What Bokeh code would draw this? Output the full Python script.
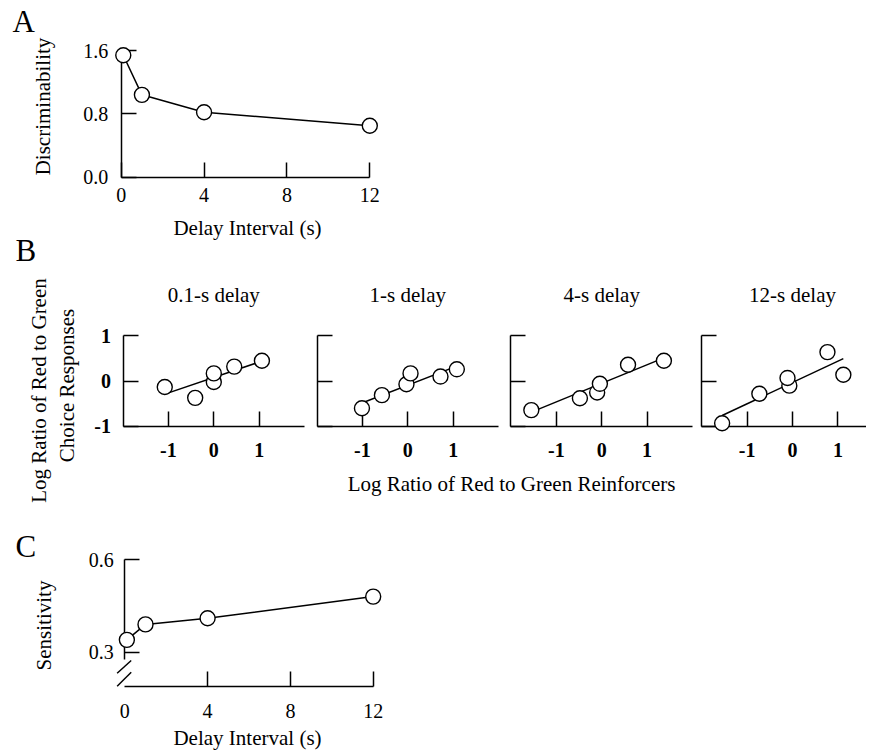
import math
from bokeh.plotting import figure
from bokeh.models import Range1d, LinearAxis, FixedTicker, Label, PrintfTickFormatter
from bokeh.embed import file_html
from bokeh.resources import INLINE

# ---------------- data ----------------
A_DELAY = [0.1, 1, 4, 12]
A_DISCRIMINABILITY = [1.54, 1.04, 0.82, 0.65]
A_XTICKS = [0, 4, 8, 12]
A_YTICKS = [0.0, 0.8, 1.6]

B_TITLES = ["0.1-s delay", "1-s delay", "4-s delay", "12-s delay"]
B1_X = [-1.08, -0.41, 0.0, 0.0, 0.45, 1.06]
B1_Y = [-0.13, -0.37, -0.02, 0.17, 0.32, 0.45]
B2_X = [-1.01, -0.57, -0.03, 0.06, 0.72, 1.08]
B2_Y = [-0.60, -0.31, -0.07, 0.17, 0.10, 0.26]
B3_X = [-1.55, -0.48, -0.10, -0.04, 0.58, 1.37]
B3_Y = [-0.64, -0.38, -0.25, -0.06, 0.36, 0.45]
B4_X = [-1.55, -0.73, -0.07, -0.11, 0.77, 1.12]
B4_Y = [-0.93, -0.28, -0.10, 0.07, 0.64, 0.14]
B_FIT_SLOPE = [0.34, 0.39, 0.41, 0.47]
B_FIT_INTERCEPT = [0.08, -0.09, -0.05, -0.03]
B_XTICKS = [-1, 0, 1]
B_YTICKS = [-1, 0, 1]
B_XLIM = [-2, 2]

C_DELAY = [0.1, 1, 4, 12]
C_SENSITIVITY = [0.34, 0.39, 0.41, 0.48]
C_XTICKS = [0, 4, 8, 12]
C_YTICKS = [0.3, 0.6]
C_FLOOR = 0.19        # where the broken y axis meets the x axis
C_BREAK_TOP = 0.275   # y axis line resumes above the break

# ---------------- layout (page pixels of the reference) ----------------
PX_LO, PX_HI = 0, 866      # canvas left / right
PY_TOP, PY_BOT = 0, 750    # canvas top / bottom
SERIF = "Liberation Serif"

def px_range(d0, p0, d1, p1, lo, hi):
    k = (d1 - d0) / (p1 - p0)
    return Range1d(start=d0 + (lo - p0) * k, end=d0 + (hi - p0) * k)

def xr(d0, p0, d1, p1):
    return px_range(d0, p0, d1, p1, PX_LO, PX_HI)

def yr(d0, p0, d1, p1):
    return px_range(d0, p0, d1, p1, PY_BOT, PY_TOP)

p = figure(width=PX_HI - PX_LO, height=PY_BOT - PY_TOP,
           x_range=Range1d(PX_LO, PX_HI), y_range=Range1d(PY_BOT, PY_TOP),
           x_axis_type=None, y_axis_type=None, toolbar_location=None,
           output_backend="svg", min_border=0, outline_line_color=None,
           background_fill_color="white", border_fill_color="white")

B_CENTER_PX = [213.3, 407.3, 601.2, 792.0]
B_XSCALE = 45.4
B_Y0_PX, B_YSCALE = 380.6, 45.3

extra_x = {"ax": xr(0, 120.7, 12, 369.3), "cx": xr(0, 124.3, 12, 372.7)}
extra_y = {"ay": yr(0, 176.7, 1.6, 50.0), "cy": yr(0.3, 651.7, 0.6, 559.0),
           "by": yr(0, B_Y0_PX, 1, B_Y0_PX - B_YSCALE)}
for i, c in enumerate(B_CENTER_PX):
    extra_x[f"b{i}x"] = xr(0, c, 1, c + B_XSCALE)
p.extra_x_ranges = extra_x
p.extra_y_ranges = extra_y


def style_axis(ax, standoff, labels=True, bold=False, tick_in=15, line=True):
    ax.axis_line_color = "black" if line else None
    ax.axis_line_width = 1.5
    ax.major_tick_line_color = "black" if tick_in > 0 else None
    ax.major_tick_line_width = 1.5
    ax.major_tick_in = tick_in
    ax.major_tick_out = 0
    ax.minor_tick_in = 0
    ax.minor_tick_out = 0
    ax.minor_tick_line_color = None
    ax.major_label_text_font = SERIF
    ax.major_label_text_font_size = "20px"
    ax.major_label_text_color = "black" if labels else None
    ax.major_label_text_font_style = "bold" if bold else "normal"
    ax.major_label_standoff = standoff
    ax.level = "underlay"


def add_axis(side, xname, yname, loc, bounds, ticks, fmt, standoff, **kw):
    ax = LinearAxis(x_range_name=xname, y_range_name=yname, fixed_location=loc,
                    bounds=bounds, ticker=FixedTicker(ticks=ticks),
                    formatter=PrintfTickFormatter(format=fmt))
    style_axis(ax, standoff, **kw)
    p.add_layout(ax, side)
    return ax


def text(x, y, s, size=21, align="center", angle=0, xname="default", bold=False):
    # x, y: intended baseline anchor in reference pixels; compensate for the
    # renderer's baseline offset (about 0.36 em)
    shift = 0.36 * size
    if angle == 0:
        y -= shift
    else:
        x -= shift
    p.add_layout(Label(x=x, y=y, text=s, text_font=SERIF, text_font_size=f"{size}px",
                       text_align=align, text_baseline="alphabetic", angle=angle,
                       text_color="black", x_range_name=xname,
                       text_font_style="bold" if bold else "normal"))


def circles(xs, ys, xname, yname):
    p.scatter(xs, ys, marker="circle", size=15, fill_color="white",
              line_color="black", line_width=1.4,
              x_range_name=xname, y_range_name=yname)

# ---------------- Panel A ----------------
add_axis("below", "ax", "ay", A_YTICKS[0], (A_XTICKS[0], A_XTICKS[-1]), A_XTICKS, "%d", 11)
add_axis("left", "ax", "ay", A_XTICKS[0], (A_YTICKS[0], A_YTICKS[-1]), A_YTICKS, "%.1f", 13)
p.line(A_DELAY, A_DISCRIMINABILITY, line_color="black", line_width=1.5,
       x_range_name="ax", y_range_name="ay")
circles(A_DELAY, A_DISCRIMINABILITY, "ax", "ay")
text(12, 32, "A", size=31, align="left")
text(50, 106, "Discriminability", angle=math.pi / 2)
text(247, 235, "Delay Interval (s)")

# ---------------- Panel B ----------------
B_XS = [B1_X, B2_X, B3_X, B4_X]
B_YS = [B1_Y, B2_Y, B3_Y, B4_Y]
for i in range(4):
    xn = f"b{i}x"
    add_axis("below", xn, "by", B_YTICKS[0], tuple(B_XLIM), B_XTICKS, "%d", 17, bold=True)
    add_axis("left", xn, "by", B_XLIM[0], (B_YTICKS[0], B_YTICKS[-1]), B_YTICKS, "%d", 12,
             bold=True, labels=(i == 0))
    xs = [min(B_XS[i]), max(B_XS[i])]
    ys = [B_FIT_INTERCEPT[i] + B_FIT_SLOPE[i] * x for x in xs]
    p.line(xs, ys, line_color="black", line_width=1.5, x_range_name=xn, y_range_name="by")
    circles(B_XS[i], B_YS[i], xn, "by")
    text(0, 302, B_TITLES[i], xname=xn)
text(15, 261, "B", size=31, align="left")
text(46, 390, "Log Ratio of Red to Green", angle=math.pi / 2)
text(74, 385, "Choice Responses", angle=math.pi / 2)
text(511, 491, "Log Ratio of Red to Green Reinforcers")

# ---------------- Panel C ----------------
c_ticks_marked = [t for t in C_XTICKS if t != C_XTICKS[0]]
add_axis("below", "cx", "cy", C_FLOOR, (C_XTICKS[0], C_XTICKS[-1]), c_ticks_marked, "%d", 18,
         labels=False)
add_axis("below", "cx", "cy", C_FLOOR, (C_XTICKS[0], C_XTICKS[-1]), C_XTICKS, "%d", 18,
         tick_in=0, line=False)
add_axis("left", "cx", "cy", C_XTICKS[0], (C_BREAK_TOP, C_YTICKS[-1]), C_YTICKS, "%.1f", 11)
# axis-break marks
p.segment(x0=[-0.37, -0.37], y0=[0.232, C_FLOOR], x1=[0.31, 0.31], y1=[0.273, 0.235],
          line_color="black", line_width=1.5, x_range_name="cx", y_range_name="cy")
p.line(C_DELAY, C_SENSITIVITY, line_color="black", line_width=1.5,
       x_range_name="cx", y_range_name="cy")
circles(C_DELAY, C_SENSITIVITY, "cx", "cy")
text(15, 557, "C", size=31, align="left")
text(51, 625, "Sensitivity", angle=math.pi / 2)
text(247, 745, "Delay Interval (s)")

open("out.html", "w").write(file_html(p, INLINE))
